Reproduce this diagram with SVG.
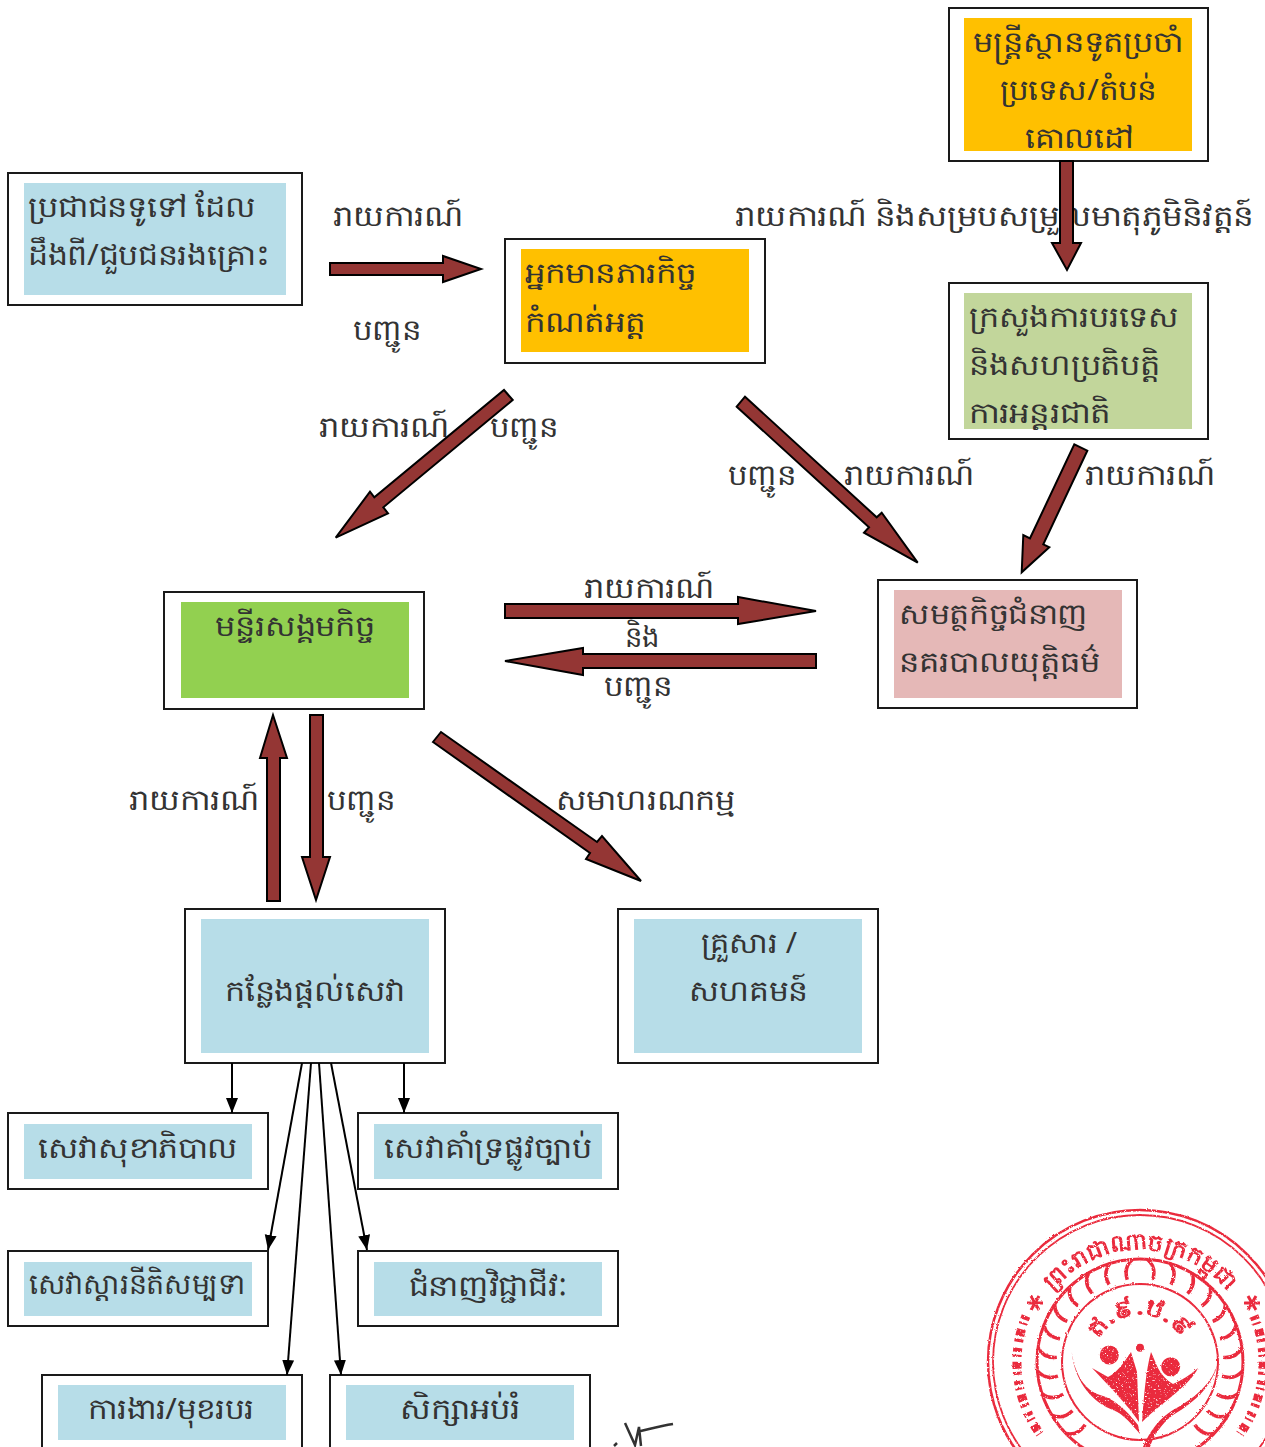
<svg xmlns="http://www.w3.org/2000/svg" width="1265" height="1447" viewBox="0 0 1265 1447">
<style>
text{font-family:"Noto Sans","DejaVu Sans","Liberation Sans",sans-serif;font-size:29px;fill:#333;text-anchor:middle}
.s{text-anchor:start}
.b{fill:#fff;stroke:#1a1a1a;stroke-width:2}
.blue{fill:#B7DDE8}.or{fill:#FFC000}.gr{fill:#C2D69B}.lg{fill:#92D050}.pk{fill:#E5B8B7}
.ba{fill:#943634;stroke:#000;stroke-width:2;stroke-linejoin:miter}
.th{fill:none;stroke:#000;stroke-width:2;marker-end:url(#h)}
.r{fill:none;stroke:#EA2A3C}
.rf{fill:#EA2A3C}
text.rt{fill:#EA2A3C;font-weight:700}
</style>
<defs>
<marker id="h" markerUnits="userSpaceOnUse" markerWidth="16" markerHeight="14" refX="15" refY="6" orient="auto"><path d="M0 0L15 6L0 12Z" fill="#000"/></marker>
<filter id="ink" x="-5%" y="-5%" width="110%" height="110%"><feTurbulence type="fractalNoise" baseFrequency=".55" numOctaves="2" seed="3" result="n"/><feDisplacementMap in="SourceGraphic" in2="n" scale="2.500" result="d"/><feColorMatrix in="n" type="matrix" values="0 0 0 0 0 0 0 0 0 0 0 0 0 0 0 0 0 0 6 -1.200" result="m"/><feComposite in="d" in2="m" operator="in"/><feGaussianBlur stdDeviation=".3"/></filter>
<filter id="soft"><feGaussianBlur stdDeviation=".7"/></filter>
<path id="f" class="r" stroke-width="3.500" d="M1147 1279Q1150 1266 1140 1259"/>
<path id="topArc" d="M1051.700 1293A112 112 0 0 1 1228.300 1293"/>
<path id="midArc" d="M1095.800 1345.900A47 47 0 0 1 1184.200 1345.900"/>
<g id="half">
<use href="#f" transform="rotate(4 1140 1362)"/><use href="#f" transform="rotate(17 1140 1362)"/><use href="#f" transform="rotate(30 1140 1362)"/><use href="#f" transform="rotate(43 1140 1362)"/><use href="#f" transform="rotate(56 1140 1362)"/><use href="#f" transform="rotate(69 1140 1362)"/><use href="#f" transform="rotate(82 1140 1362)"/><use href="#f" transform="rotate(95 1140 1362)"/><use href="#f" transform="rotate(108 1140 1362)"/><use href="#f" transform="rotate(121 1140 1362)"/><use href="#f" transform="rotate(134 1140 1362)"/>
</g>
</defs>
<g id="n1"><rect class="b" x="8" y="173" width="294" height="132"/><rect class="blue" x="24" y="183" width="262" height="112"/><text class="s" x="28" y="217" textLength="228" lengthAdjust="spacingAndGlyphs">ប្រជាជនទូទៅ ដែល</text><text class="s" x="28" y="265" textLength="242" lengthAdjust="spacingAndGlyphs">ដឹងពី/ជួបជនរងគ្រោះ</text></g>
<g id="n2"><rect class="b" x="505" y="239" width="260" height="124"/><rect class="or" x="521" y="249" width="228" height="103"/><text class="s" x="525" y="283" textLength="171" lengthAdjust="spacingAndGlyphs">អ្នកមានភារកិច្ច</text><text class="s" x="525" y="332" textLength="120" lengthAdjust="spacingAndGlyphs">កំណត់អត្ត</text></g>
<g id="n3"><rect class="b" x="949" y="8" width="259" height="153"/><rect class="or" x="964" y="18" width="228" height="133"/><text x="1078" y="52" textLength="210" lengthAdjust="spacingAndGlyphs">មន្ត្រីស្ថានទូតប្រចាំ</text><text x="1078" y="100" textLength="157" lengthAdjust="spacingAndGlyphs">ប្រទេស/តំបន់</text><text x="1079" y="148" textLength="108" lengthAdjust="spacingAndGlyphs">គោលដៅ</text></g>
<g id="n4"><rect class="b" x="949" y="283" width="259" height="156"/><rect class="gr" x="964" y="293" width="228" height="136"/><text class="s" x="969" y="327" textLength="210" lengthAdjust="spacingAndGlyphs">ក្រសួងការបរទេស</text><text class="s" x="969" y="375" textLength="191" lengthAdjust="spacingAndGlyphs">និងសហប្រតិបត្តិ</text><text class="s" x="969" y="423" textLength="141" lengthAdjust="spacingAndGlyphs">ការអន្តរជាតិ</text></g>
<g id="n5"><rect class="b" x="164" y="592" width="260" height="117"/><rect class="lg" x="181" y="602" width="228" height="96"/><text x="295" y="636" textLength="160" lengthAdjust="spacingAndGlyphs">មន្ទីរសង្គមកិច្ច</text></g>
<g id="n6"><rect class="b" x="878" y="580" width="259" height="128"/><rect class="pk" x="894" y="590" width="228" height="108"/><text class="s" x="899" y="624" textLength="189" lengthAdjust="spacingAndGlyphs">សមត្ថកិច្ចជំនាញ</text><text class="s" x="899" y="672" textLength="201" lengthAdjust="spacingAndGlyphs">នគរបាលយុត្តិធម៌</text></g>
<g id="n7"><rect class="b" x="185" y="909" width="260" height="154"/><rect class="blue" x="201" y="919" width="228" height="134"/><text x="315" y="1001" textLength="180" lengthAdjust="spacingAndGlyphs">កន្លែងផ្តល់សេវា</text></g>
<g id="n8"><rect class="b" x="618" y="909" width="260" height="154"/><rect class="blue" x="634" y="919" width="228" height="134"/><text x="749" y="953" textLength="96" lengthAdjust="spacingAndGlyphs">គ្រួសារ /</text><text x="748" y="1001" textLength="119" lengthAdjust="spacingAndGlyphs">សហគមន៍</text></g>
<g id="n9"><rect class="b" x="8" y="1113" width="260" height="76"/><rect class="blue" x="24" y="1124" width="228" height="55"/><text x="138" y="1158" textLength="200" lengthAdjust="spacingAndGlyphs">សេវាសុខាភិបាល</text></g>
<g id="n10"><rect class="b" x="358" y="1113" width="260" height="76"/><rect class="blue" x="374" y="1124" width="228" height="55"/><text x="488" y="1158" textLength="208" lengthAdjust="spacingAndGlyphs">សេវាគាំទ្រផ្លូវច្បាប់</text></g>
<g id="n11"><rect class="b" x="8" y="1251" width="260" height="75"/><rect class="blue" x="24" y="1262" width="228" height="54"/><text x="137" y="1294" textLength="216" lengthAdjust="spacingAndGlyphs">សេវាស្តារនីតិសម្បទា</text></g>
<g id="n12"><rect class="b" x="358" y="1251" width="260" height="75"/><rect class="blue" x="374" y="1262" width="228" height="54"/><text x="488" y="1296" textLength="159" lengthAdjust="spacingAndGlyphs">ជំនាញវិជ្ជាជីវៈ</text></g>
<g id="n13"><rect class="b" x="42" y="1375" width="260" height="90"/><rect class="blue" x="58" y="1385" width="228" height="55"/><text x="171" y="1419" textLength="166" lengthAdjust="spacingAndGlyphs">ការងារ/មុខរបរ</text></g>
<g id="n14"><rect class="b" x="330" y="1375" width="260" height="90"/><rect class="blue" x="346" y="1385" width="228" height="55"/><text x="460" y="1419" textLength="120" lengthAdjust="spacingAndGlyphs">សិក្សាអប់រំ</text></g>
<g id="edge-labels">
<text x="398" y="226" textLength="130" lengthAdjust="spacingAndGlyphs">រាយការណ៍</text>
<text x="387" y="340" textLength="68" lengthAdjust="spacingAndGlyphs">បញ្ជូន</text>
<text x="994" y="226" textLength="518" lengthAdjust="spacingAndGlyphs">រាយការណ៍ និងសម្របសម្រួលមាតុភូមិនិវត្តន៍</text>
<text x="384" y="437" textLength="130" lengthAdjust="spacingAndGlyphs">រាយការណ៍</text>
<text x="524" y="437" textLength="68" lengthAdjust="spacingAndGlyphs">បញ្ជូន</text>
<text x="762" y="485" textLength="68" lengthAdjust="spacingAndGlyphs">បញ្ជូន</text>
<text x="909" y="485" textLength="130" lengthAdjust="spacingAndGlyphs">រាយការណ៍</text>
<text x="1150" y="485" textLength="130" lengthAdjust="spacingAndGlyphs">រាយការណ៍</text>
<text x="649" y="598" textLength="130" lengthAdjust="spacingAndGlyphs">រាយការណ៍</text>
<text x="642" y="647" textLength="34" lengthAdjust="spacingAndGlyphs">និង</text>
<text x="638" y="696" textLength="68" lengthAdjust="spacingAndGlyphs">បញ្ជូន</text>
<text x="194" y="810" textLength="130" lengthAdjust="spacingAndGlyphs">រាយការណ៍</text>
<text x="361" y="810" textLength="68" lengthAdjust="spacingAndGlyphs">បញ្ជូន</text>
<text x="645" y="810" textLength="179" lengthAdjust="spacingAndGlyphs">សមាហរណកម្ម</text>
</g>
<g id="connectors">
<polygon class="ba" points="330,263 443,263 443,256 481,269 443,282 443,275 330,275"/>
<polygon class="ba" points="1060,161 1073,161 1073,243 1081,243 1067,270 1052,243 1060,243"/>
<polygon class="ba" points="512.700,400 383.300,507.300 388,513.300 335.700,537.700 370,491.700 374.300,497.300 504,390"/>
<polygon class="ba" points="736.700,406.700 869,527.300 864,532.700 917.700,562.700 881.700,512.700 876.700,517.300 745,396.700"/>
<polygon class="ba" points="1087.300,450.700 1043.300,544.300 1049.300,547.300 1021.700,572.300 1023.300,535 1030,538.300 1074.300,444.300"/>
<polygon class="ba" points="505,604 738,604 738,597 816,611 738,624 738,618 505,618"/>
<polygon class="ba" points="816,654 583,654 583,648 505,661 583,675 583,668 816,668"/>
<polygon class="ba" points="267,901 267,758 260,758 273,715 287,758 280,758 280,901"/>
<polygon class="ba" points="310,715 323,715 323,857 330,857 316,900 302,857 310,857"/>
<polygon class="ba" points="433,742 590,853 586,859 641,881 602,836 597,842 441,732"/>
<line class="th" x1="232" y1="1063" x2="232" y2="1113"/>
<line class="th" x1="404" y1="1063" x2="404" y2="1113"/>
<line class="th" x1="302" y1="1063" x2="268" y2="1250"/>
<line class="th" x1="311" y1="1063" x2="287" y2="1375"/>
<line class="th" x1="319" y1="1063" x2="341" y2="1375"/>
<line class="th" x1="331" y1="1063" x2="367" y2="1250"/>
</g>
<g id="seal" filter="url(#ink)">
<circle class="r" cx="1140" cy="1362" r="152" stroke-width="2.500"/>
<circle class="r" cx="1140" cy="1362" r="147" stroke-width="1.800"/>
<circle class="r" cx="1140" cy="1362" r="103" stroke-width="3"/>
<circle class="r" cx="1140" cy="1362" r="78" stroke-width="2"/>
<use href="#half"/><use href="#half" transform="translate(2280 0) scale(-1 1)"/>
<text class="rt" style="font-size:23px"><textPath href="#topArc" startOffset="50%" textLength="200" lengthAdjust="spacingAndGlyphs">ព្រះរាជាណាចក្រកម្ពុជា</textPath></text>
<text class="rt" style="font-size:24px"><textPath href="#midArc" startOffset="50%" textLength="100" lengthAdjust="spacingAndGlyphs">ឥ.៩.ឋ.៩</textPath></text>
<path class="r" stroke-width="3" d="M1027 1303h16M1031 1296l8 14M1039 1296l-8 14M1244 1303h16M1248 1296l8 14M1256 1296l-8 14"/>
<path class="r" stroke-width="9" stroke-dasharray="4 3 2 5 7 3 3 6" d="M1026 1316A123 123 0 0 0 1040 1434"/>
<path class="r" stroke-width="9" stroke-dasharray="4 3 2 5 7 3 3 6" d="M1254 1316A123 123 0 0 1 1240 1434"/>
<circle class="rf" cx="1109.300" cy="1355" r="9.500"/><circle class="rf" cx="1170.700" cy="1366.700" r="9.500"/><circle class="rf" cx="1140" cy="1347.700" r="4"/>
<path class="rf" d="M1071.700 1351.700C1075 1385 1095 1403 1113 1410C1125 1415 1132 1425 1140 1434L1138 1425C1125 1408 1112 1398 1100 1395C1085 1390 1075 1375 1071.700 1351.700Z"/>
<path class="rf" d="M1092 1368L1108 1377C1118 1372 1124 1362 1131 1352L1137 1372L1139 1422C1128 1405 1108 1385 1092 1368Z"/>
<path class="rf" d="M1151 1352C1156 1362 1158 1375 1173 1384C1182 1380 1190 1375 1198 1368C1190 1385 1165 1400 1142 1422C1144 1395 1146 1370 1151 1352Z"/>
<path class="rf" d="M1220 1355C1216 1375 1206 1392 1173 1410C1160 1418 1150 1430 1143 1447L1150 1447C1153 1437 1160 1425 1173 1415C1195 1402 1215 1385 1220 1355Z"/>
</g>
<g id="signature" filter="url(#soft)"><path d="M625 1423L635 1445L639 1427L641 1446M637 1432C650 1429 660 1426 673 1424M614 1446L617 1443" fill="none" stroke="#333" stroke-width="2.500"/></g>
</svg>
